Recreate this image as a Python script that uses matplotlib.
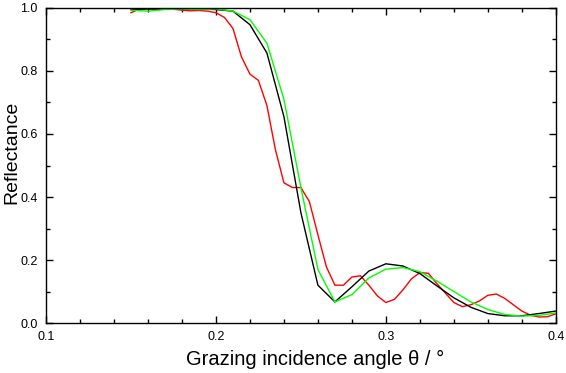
import matplotlib.pyplot as plt
import numpy as np
from matplotlib.ticker import MultipleLocator

plt.rcParams['font.family'] = ['Liberation Sans', 'DejaVu Sans']

# measured (red), 0.005 steps
x_red = np.round(np.arange(0.15, 0.4001, 0.005), 3)
r_red = [0.985, 0.997, 0.998, 0.995, 0.997, 0.996, 0.993, 0.991, 0.992, 0.990,
         0.985, 0.970, 0.935, 0.845, 0.790, 0.770, 0.690, 0.550, 0.445, 0.430,
         0.430, 0.385, 0.280, 0.178, 0.120, 0.120, 0.146, 0.150, 0.120, 0.086,
         0.065, 0.075, 0.105, 0.140, 0.160, 0.158, 0.125, 0.095, 0.065, 0.052,
         0.058, 0.070, 0.088, 0.092, 0.078, 0.058, 0.038, 0.025, 0.019, 0.020,
         0.029]

# simulations, 0.01 steps
x_sim = np.round(np.arange(0.15, 0.4001, 0.01), 2)
r_black = [0.995, 0.997, 0.998, 0.997, 0.997, 0.995, 0.990, 0.947, 0.857, 0.655,
           0.350, 0.120, 0.067, 0.115, 0.165, 0.188, 0.181, 0.157, 0.118, 0.080,
           0.050, 0.030, 0.023, 0.023, 0.030, 0.038]
r_green = [0.993, 0.990, 0.995, 0.997, 0.995, 0.997, 0.990, 0.963, 0.888, 0.710,
           0.430, 0.170, 0.067, 0.090, 0.143, 0.171, 0.176, 0.163, 0.133, 0.100,
           0.067, 0.043, 0.027, 0.022, 0.024, 0.032]

fig = plt.figure(figsize=(5.66, 3.73), dpi=100)
ax = fig.add_axes([0.0813, 0.134, 0.9007, 0.8446])

ax.plot(x_red, r_red, color='#ff0000', lw=1.0)
ax.plot(x_sim, r_black, color='black', lw=1.0)
ax.plot(x_sim, r_green, color='#00ff00', lw=1.0)

ax.set_xlim(0.1, 0.4)
ax.set_ylim(0.0, 1.0)
ax.xaxis.set_major_locator(MultipleLocator(0.1))
ax.xaxis.set_minor_locator(MultipleLocator(0.02))
ax.yaxis.set_major_locator(MultipleLocator(0.2))
ax.yaxis.set_minor_locator(MultipleLocator(0.1))
ax.tick_params(which='both', direction='in', top=True, right=True,
               labelsize=9, width=1, pad=6)
ax.tick_params(which='major', length=5)
ax.tick_params(which='minor', length=3)
for s in ax.spines.values():
    s.set_linewidth(1)

ax.set_xlabel('Grazing incidence angle θ / °', fontsize=14.5)
ax.xaxis.set_label_coords(0.527, -0.085)
ax.set_ylabel('Reflectance', fontsize=14)
ax.yaxis.set_label_coords(-0.05, 0.541)

fig.savefig('out.png', dpi=100)
